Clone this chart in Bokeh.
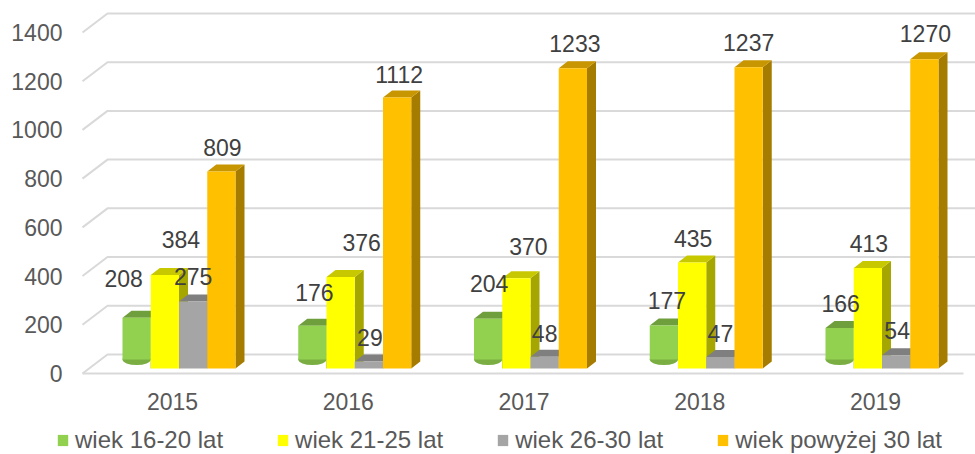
from bokeh.plotting import figure
from bokeh.layouts import column
from bokeh.models import Range1d, FixedTicker, Legend, LegendItem, ColumnDataSource
from bokeh.embed import file_html
from bokeh.resources import INLINE
from bokeh.core.properties import value

# ---------------- data ----------------
years = ["2015", "2016", "2017", "2018", "2019"]
series_names = ["wiek 16-20 lat", "wiek 21-25 lat", "wiek 26-30 lat", "wiek powyżej 30 lat"]
age_16_20 = [208, 176, 204, 177, 166]
age_21_25 = [384, 376, 370, 435, 413]
age_26_30 = [275, 29, 48, 47, 54]
age_30_plus = [809, 1112, 1233, 1237, 1270]
y_ticks = [0, 200, 400, 600, 800, 1000, 1200, 1400]

# ---------------- style ----------------
FONT = "Liberation Sans"
front_colors = ["#92D050", "#FFFF00", "#A5A5A5", "#FFC000"]
top_colors = ["#6F9E3C", "#C8C800", "#7F7F7F", "#C89600"]
side_colors = ["#5E8A30", "#A6A600", "#6B6B6B", "#A67C00"]
GRID_COLOR = "#D9D9D9"

# label nudges (px right, px above bar top) per year, per series
label_nudge = [
    [(-13, 39), (16, 35), (0, 25), (1, 24)],
    [(2, 33), (21, 34), (1, 24), (2, 23)],
    [(1, 35), (12, 32), (0, 23), (2, 25)],
    [(3, 25), (1, 24), (0, 24), (0, 25)],
    [(1, 25), (1, 24), (1, 25), (1, 26)],
]

PX_PER_CAT = 175.75
PX_PER_UNIT = 0.2436


def px_x(px):
    return px / PX_PER_CAT


def px_y(px):
    return px / PX_PER_UNIT


BAR_W = px_x(28.25)
GROUP_OFF = px_x(-50)
BAR_LIFT = px_y(5)
BAR_DX = px_x(9)
BAR_DY = px_y(7)
WALL_DX = px_x(25)
WALL_DY = px_y(19)

W, H = 975, 454
LEG_H = 32
MAIN_H = H - LEG_H
F_LEFT, F_TOP, F_BOTTOM = 40, 10, 378      # plot frame (screen px)
WALL_LEFT_PX = 82                          # where the 3D floor/walls start
FRAME_W = W - F_LEFT
FRAME_H = F_BOTTOM - F_TOP
x0 = px_x(F_LEFT - 172)
x1 = x0 + px_x(FRAME_W)
xw = px_x(WALL_LEFT_PX - 172)
y0 = px_y(373 - F_BOTTOM)
y1 = y0 + px_y(FRAME_H)

p = figure(width=W, height=MAIN_H,
           x_range=Range1d(x0, x1), y_range=Range1d(y0, y1),
           output_backend="svg", toolbar_location=None,
           min_border_left=F_LEFT, min_border_right=0,
           min_border_top=F_TOP, min_border_bottom=MAIN_H - F_BOTTOM)
p.outline_line_color = None
p.grid.visible = False
p.background_fill_color = "white"
p.border_fill_color = "white"

# ---------------- walls / floor ----------------
wall_xs = [[xw, xw + WALL_DX, x1] for t in y_ticks]
wall_ys = [[t, t + WALL_DY, t + WALL_DY] for t in y_ticks]
p.multi_line(wall_xs, wall_ys, line_color=GRID_COLOR, line_width=2)
p.line([xw, px_x(963 - 172)], [0, 0], line_color=GRID_COLOR, line_width=2)

# ---------------- bars ----------------
series = [age_16_20, age_21_25, age_26_30, age_30_plus]
for k, vals in enumerate(series):
    lefts = [i + GROUP_OFF + k * BAR_W for i in range(len(years))]
    rights = [l + BAR_W for l in lefts]
    tops = [v + BAR_LIFT for v in vals]
    bottoms = [BAR_LIFT] * len(vals)
    # side face
    p.patches([[r, r, r + BAR_DX, r + BAR_DX] for r in rights],
              [[b, t, t + BAR_DY, b + BAR_DY] for b, t in zip(bottoms, tops)],
              fill_color=side_colors[k], line_color=None)
    # top face
    p.patches([[l, r, r + BAR_DX, l + BAR_DX] for l, r in zip(lefts, rights)],
              [[t, t, t + BAR_DY, t + BAR_DY] for t in tops],
              fill_color=top_colors[k], line_color=None)
    if k == 0:
        base = px_y(14)
        p.ellipse(x=[l + BAR_W / 2 for l in lefts], y=[base] * len(vals),
                  width=BAR_W, height=11, height_units="screen",
                  fill_color="#7AAE42", line_color=None)
        p.quad(left=lefts, right=rights, bottom=[base] * len(vals), top=tops,
               fill_color=front_colors[k], line_color=None)
    else:
        p.quad(left=lefts, right=rights, bottom=bottoms, top=tops,
               fill_color=front_colors[k], line_color=None)

# ---------------- data labels ----------------
lx, ly, lt, ldx, ldy = [], [], [], [], []
for k, vals in enumerate(series):
    for i, v in enumerate(vals):
        lx.append(i + GROUP_OFF + k * BAR_W + BAR_W / 2)
        ly.append(v + BAR_LIFT)
        lt.append(str(v))
        dx, dy = label_nudge[i][k]
        ldx.append(dx)
        ldy.append(-dy)
src = ColumnDataSource(dict(x=lx, y=ly, t=lt, dx=ldx, dy=ldy))
p.text(x="x", y="y", text="t", x_offset="dx", y_offset="dy", source=src,
       text_align="center", text_baseline="middle",
       text_font=value(FONT), text_font_size="23px", text_color="#404040")

# ---------------- axes ----------------
p.yaxis.ticker = FixedTicker(ticks=y_ticks)
p.yaxis.axis_line_color = None
p.yaxis.major_tick_line_color = None
p.yaxis.minor_tick_line_color = None
p.yaxis.major_tick_out = 0
p.yaxis.major_tick_in = 0
p.yaxis.major_label_standoff = 20 - (WALL_LEFT_PX - F_LEFT)
p.yaxis.major_label_text_font = FONT
p.yaxis.major_label_text_font_size = "23px"
p.yaxis.major_label_text_color = "#595959"

p.xaxis.ticker = FixedTicker(ticks=list(range(len(years))))
p.xaxis.major_label_overrides = {i: y for i, y in enumerate(years)}
p.xaxis.axis_line_color = None
p.xaxis.major_tick_line_color = None
p.xaxis.minor_tick_line_color = None
p.xaxis.major_tick_out = 0
p.xaxis.major_tick_in = 0
p.xaxis.major_label_standoff = 14
p.xaxis.major_label_text_font = FONT
p.xaxis.major_label_text_font_size = "23px"
p.xaxis.major_label_text_color = "#595959"

# ---------------- legend strip ----------------
q = figure(width=W, height=LEG_H, x_range=Range1d(0, 1), y_range=Range1d(0, 1),
           output_backend="svg", toolbar_location=None,
           x_axis_type=None, y_axis_type=None,
           min_border_left=0, min_border_right=0, min_border_top=0, min_border_bottom=0)
q.outline_line_color = None
q.grid.visible = False
q.background_fill_color = "white"
q.border_fill_color = "white"
legend_renderers = [q.quad(left=[0], right=[1], top=[1], bottom=[0], visible=False,
                           fill_color=c, line_color=None) for c in front_colors]
legend = Legend(
    items=[LegendItem(label=n, renderers=[r]) for n, r in zip(series_names, legend_renderers)],
    location=(56 - F_LEFT, 0), orientation="horizontal",
    spacing=53, glyph_width=13, glyph_height=14, label_standoff=6,
    padding=0, margin=0, border_line_color=None, background_fill_alpha=0,
    label_text_font=FONT, label_text_font_size="24px", label_text_color="#595959",
)
q.add_layout(legend)

layout = column(p, q, spacing=0)
open("out.html", "w").write(file_html(layout, INLINE))
